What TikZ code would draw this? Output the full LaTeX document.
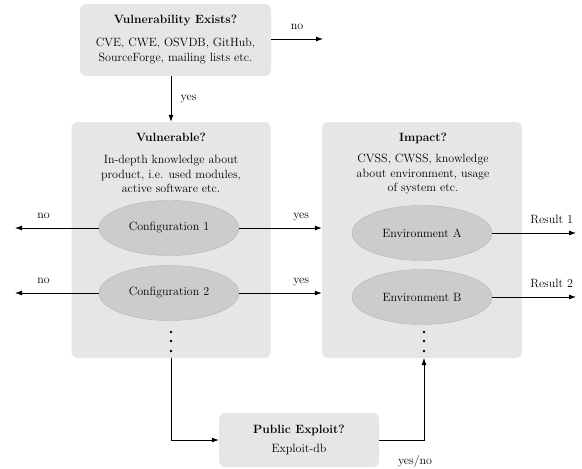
\documentclass[tikz,border=0pt]{standalone}
\usepackage{tikz}
\usetikzlibrary{positioning,shapes.geometric,arrows.meta}

\definecolor{boxgray}{HTML}{E6E6E6}
\definecolor{ellgray}{HTML}{CCCCCC}
\definecolor{ellline}{HTML}{B4B4B4}

\begin{document}
\begin{tikzpicture}[
				x=1pt,y=-1pt,
				font=\fontsize{12}{14.5}\selectfont,
				box/.style={fill=boxgray,rounded corners=6pt,inner sep=0pt},
				bigbox/.style={box,minimum width=199pt,minimum height=236pt},
				conf/.style={ellipse,fill=ellgray,draw=ellline,minimum width=140pt,minimum height=55pt,inner sep=0pt},
				title/.style={font=\fontsize{12}{14.5}\selectfont\bfseries},
				desc/.style={align=center},
				link/.style={line width=0.8pt,-{Latex[length=7pt,width=5pt]}},
				dot/.style={circle,fill,inner sep=0pt,minimum size=2.6pt}
			]
			
			\useasboundingbox (0,0) rectangle (582,469);
			
			% first question
			\node [box,minimum width=191pt,minimum height=72pt] (exists) at (175.5,40) {};
			\node [title] (existsT) at (175.5,20) {Vulnerability Exists?};
			\node [desc] (existsD) at (175.5,51) {CVE, CWE, OSVDB, GitHub,\\SourceForge, mailing lists etc.};
			
			% the two columns
			\node [bigbox] (vuln) at (171,240) {};
			\node [title] (vulnT) at (171,137) {Vulnerable?};
			\node [desc] (vulnD) at (171,174) {In-depth knowledge about\\product, i.e. used modules,\\active software etc.};
			\node [conf] (conf1) at (169,228) {Configuration 1};
			\node [conf] (conf2) at (169,293) {Configuration 2};
			
			\node [bigbox,minimum width=200pt] (impact) at (422,240) {};
			\node [title] (impactT) at (423,138) {Impact?};
			\node [desc] (impactD) at (423,174) {CVSS, CWSS, knowledge\\about environment, usage\\of system etc.};
			\node [conf] (envA) at (422,233) {Environment A};
			\node [conf] (envB) at (422,297) {Environment B};
			
			\node [dot] (vdot1) at (171,332) {};
			\node [dot] (vdot2) at (171,341) {};
			\node [dot] (vdot3) at (171,351) {};
			\node [dot] (idot1) at (424,332) {};
			\node [dot] (idot2) at (424,341) {};
			\node [dot] (idot3) at (424,351) {};
			\coordinate (vdot) at (171,358);
			\coordinate (idot) at (424,358);
			
			% exploit question
			\node [box,minimum width=160pt,minimum height=54pt] (exploit) at (299,440) {};
			\node [title] (exploitT) at (299,430) {Public Exploit?};
			\node [desc] (exploitD) at (299,449) {Exploit-db};
			
			% free ends
			\coordinate (no0) at (323,39);
			\coordinate (no1) at (15,228);
			\coordinate (no2) at (15,293);
			\coordinate (res1) at (576,233);
			\coordinate (res2) at (576,297);
			
			\draw [link] (no0 -| exists.east) -- (no0) node [midway,above=6pt] {no};
			\draw [link] (exists.south -| vuln.north) -- (vuln.north) node [midway,right=6pt] {yes};
			\draw [link] (conf1) -- (no1) node [pos=0.66,above=6pt] {no};
			\draw [link] (conf2) -- (no2) node [pos=0.66,above=6pt] {no};
			\draw [link] (conf1) -- (conf1 -| impact.west) node [pos=0.75,above=3pt] {yes};
			\draw [link] (conf2) -- (conf2 -| impact.west) node [pos=0.75,above=3pt] {yes};
			\draw [link] (envA) -- (res1) node [pos=0.71,above=6pt] {Result 1};
			\draw [link] (envB) -- (res2) node [pos=0.71,above=6pt] {Result 2};
			\draw [link] (vdot) |- (exploit.west);
			\draw [link] (exploit.east) -| (idot) node [pos=0.4,below=12pt] {yes/no};
		\end{tikzpicture}
\end{document}
